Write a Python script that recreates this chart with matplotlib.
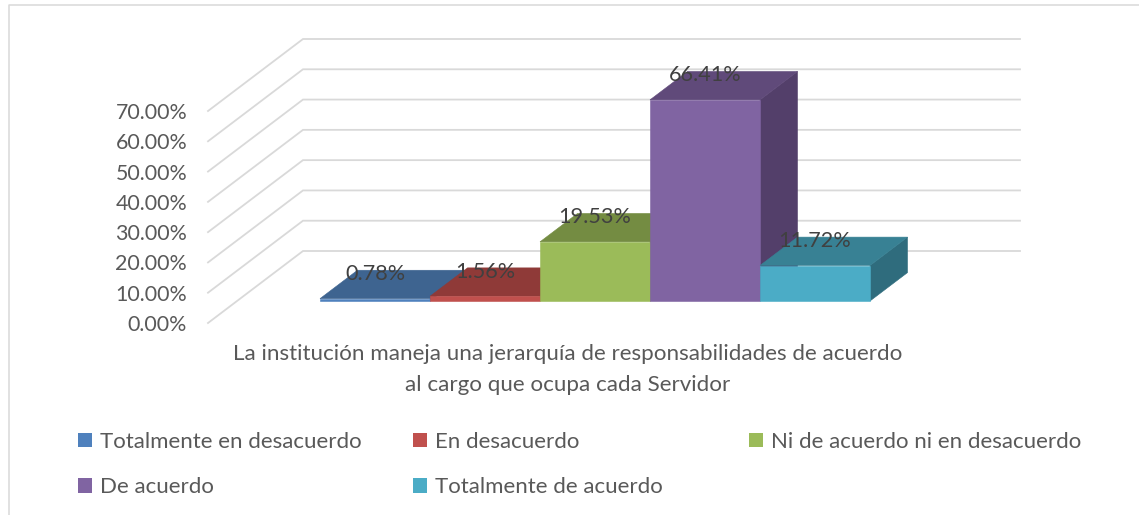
import matplotlib
matplotlib.use("Agg")
import matplotlib.pyplot as plt
from matplotlib.patches import Patch, Polygon, Rectangle
from matplotlib.lines import Line2D

categories = ["Totalmente en desacuerdo", "En desacuerdo", "Ni de acuerdo ni en desacuerdo",
              "De acuerdo", "Totalmente de acuerdo"]
values = [0.78, 1.56, 19.53, 66.41, 11.72]
value_labels = ["0.78%", "1.56%", "19.53%", "66.41%", "11.72%"]
y_ticks = [0, 10, 20, 30, 40, 50, 60, 70]
y_tick_labels = ["0.00%", "10.00%", "20.00%", "30.00%", "40.00%", "50.00%", "60.00%", "70.00%"]
title_lines = "La institución maneja una jerarquía de responsabilidades de acuerdo\nal cargo que ocupa cada Servidor"
front_colors = ["#4F81BD", "#C0504D", "#9BBB59", "#8064A2", "#4BACC6"]
top_colors = ["#3E6490", "#8F3A38", "#748C42", "#604A7A", "#388194"]
side_colors = ["#34547A", "#7A3230", "#637839", "#533F6A", "#2F6C7D"]

W, H = 1139, 515
plt.rcParams["font.family"] = ["Lato", "DejaVu Sans"]
fig = plt.figure(figsize=(W / 100, H / 100), dpi=100, facecolor="white")

# frame of the chart area
fig.add_artist(Line2D([8.5 / W, 8.5 / W, 1], [0, 1 - 4.7 / H, 1 - 4.7 / H],
                      transform=fig.transFigure, color="#D9D9D9", lw=1.1))

# axes: y in percent on the front plane of the wall, x in bar widths
L, R, Y0, Y70 = 208, 1020, 323, 111
ax = fig.add_axes([L / W, 1 - Y0 / H, (R - L) / W, (Y0 - Y70) / H])
PX_X = 110.0
PX_Y = (Y0 - Y70) / 70
x_of = lambda px: (px - 320) / PX_X
ax.set_xlim(x_of(L), x_of(R))
ax.set_ylim(0, 70)
ax.patch.set_alpha(0)
for s in ax.spines.values():
    s.set_visible(False)
ax.set_xticks([])
ax.set_yticks(y_ticks)
ax.set_yticklabels(y_tick_labels, fontsize=15.4, color="#595959")
ax.tick_params(axis="y", length=0, pad=15)

# walls and gridlines
wall_dx, wall_dy = 95 / PX_X, 72 / PX_Y
for v in y_ticks:
    ax.plot([x_of(L), x_of(L) + wall_dx, x_of(R)], [v, v + wall_dy, v + wall_dy],
            color="#D9D9D9", lw=1.3, clip_on=False, zorder=1, solid_joinstyle="miter")

# bars
floor = 22 / PX_Y
dx, dy = 37.5 / PX_X, 28.4 / PX_Y
for i, v in enumerate(values):
    x0, x1, y0, y1 = i, i + 1, floor, floor + v
    ax.add_patch(Polygon([(x1, y0), (x1 + dx, y0 + dy), (x1 + dx, y1 + dy), (x1, y1)],
                         fc=side_colors[i], ec=side_colors[i], lw=0.4, zorder=2 + i, clip_on=False))
    ax.add_patch(Polygon([(x0, y1), (x1, y1), (x1 + dx, y1 + dy), (x0 + dx, y1 + dy)],
                         fc=top_colors[i], ec=top_colors[i], lw=0.4, zorder=2 + i, clip_on=False))
    ax.add_patch(Rectangle((x0, y0), 1, v, fc=front_colors[i], ec=front_colors[i], lw=0.4,
                           zorder=2 + i, clip_on=False))
    ax.text(i + 0.5, y1 + dy - 1.3, value_labels[i], ha="center", va="center",
            fontsize=15.6, color="#404040", zorder=20, clip_on=False)

# category-axis caption
fig.text(567.5 / W, 1 - 369.5 / H, title_lines, ha="center", va="center", fontsize=16.1,
         color="#595959", linespacing=1.64)

# legend, row-wise in three fixed columns
columns = [(78, [0, 3]), (413, [1, 4]), (749, [2])]
for px, idx in columns:
    handles = [Patch(fc=front_colors[j], ec="none") for j in idx]
    fig.legend(handles, [categories[j] for j in idx], loc="upper left",
               bbox_to_anchor=(px / W, 1 - 432 / H), bbox_transform=fig.transFigure,
               frameon=False, fontsize=16, labelcolor="#595959", borderpad=0, borderaxespad=0,
               handlelength=0.63, handleheight=0.63, handletextpad=0.36, labelspacing=1.13)

fig.savefig("out.png", dpi=100, facecolor="white")
